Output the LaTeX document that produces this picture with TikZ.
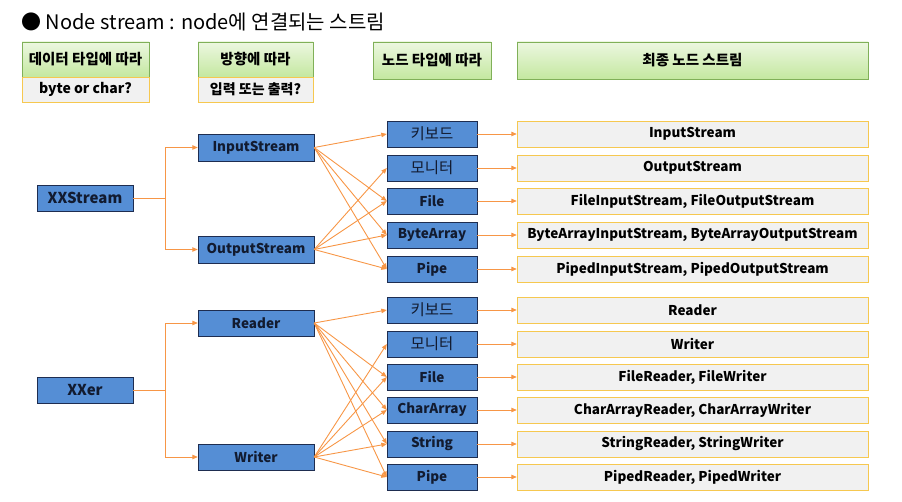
\documentclass[tikz,border=0pt]{standalone}
\usepackage{fontspec}
\setmainfont{Noto Sans CJK KR}
\usetikzlibrary{arrows.meta, shadows}
\definecolor{nodeBlue}{RGB}{85, 142, 213}
\definecolor{nodeNavy}{RGB}{30, 45, 80}
\definecolor{lineOrange}{RGB}{247, 150, 70}
\definecolor{hdrTop}{RGB}{236, 247, 224}
\definecolor{hdrBot}{RGB}{196, 232, 160}
\definecolor{hdrLine}{RGB}{128, 176, 88}
\definecolor{goldLine}{RGB}{246, 200, 80}
\definecolor{finGray}{RGB}{241, 241, 241}
\tikzset{
  hdr/.style={draw=hdrLine, top color=hdrTop, bottom color=hdrBot, font=\bfseries\fontsize{14.5}{16}\selectfont,
    inner sep=0pt, drop shadow={opacity=0.2, shadow xshift=1pt, shadow yshift=-1pt}},
  subbox/.style={draw=goldLine, fill=finGray, font=\bfseries\fontsize{14}{16}\selectfont, inner sep=0pt},
  blk/.style={draw=nodeNavy, fill=nodeBlue, text=nodeNavy!60!black, inner sep=0pt, minimum height=26pt,
    font=\bfseries\fontsize{13.5}{15}\selectfont},
  fin/.style={draw=goldLine, fill=finGray, inner sep=0pt, minimum width=351pt, minimum height=26pt,
    font=\bfseries\fontsize{13.5}{15}\selectfont, drop shadow={opacity=0.2, shadow xshift=1pt, shadow yshift=-1pt}},
  conn/.style={draw=lineOrange, line width=0.9pt, -{Triangle[length=5.5pt, width=4.5pt]}}
}
\begin{document}
\begin{tikzpicture}[x=1pt, y=-1pt]
  \useasboundingbox (0,0) rectangle (902,502);
  % title
  \node[anchor=west, font=\fontsize{20}{24}\selectfont] (title) at (18,22) {● Node stream : node에 연결되는 스트림};

  % header row
  \node[hdr, minimum width=127pt, minimum height=35pt] (hd1) at (85.5,59.5) {데이터 타입에 따라};
  \node[subbox, minimum width=127pt, minimum height=25pt] (sb1) at (85.5,89.5) {byte or char?};
  \node[hdr, minimum width=115pt, minimum height=35pt] (hd2) at (255.5,59.5) {방향에 따라};
  \node[subbox, minimum width=115pt, minimum height=25pt] (sb2) at (255.5,89.5) {입력 또는 출력?};
  \node[hdr, minimum width=118pt, minimum height=37pt] (hd3) at (432,60.5) {노드 타입에 따라};
  \node[hdr, minimum width=351pt, minimum height=37pt] (hd4) at (692.5,60.5) {최종 노드 스트림};

  % byte streams
  \node[blk, minimum width=96pt, font=\bfseries\fontsize{15}{17}\selectfont] (xs) at (85,198) {XXStream};
  \node[blk, minimum width=116pt, minimum height=27pt] (ins) at (256,147.5) {InputStream};
  \node[blk, minimum width=116pt, minimum height=27pt] (outs) at (256,249.5) {OutputStream};
  \coordinate (xsj) at (165,198);
  \draw[draw=lineOrange, line width=0.9pt] (xs.east) -- (xsj);
  \draw[conn] (xsj) |- (ins.west);
  \draw[conn] (xsj) |- (outs.west);

  \foreach \y/\lbl/\txt [count=\i] in {134/\textmd{\fontsize{15.5}{17}\selectfont 키보드}/InputStream,
      168/\textmd{\fontsize{15.5}{17}\selectfont 모니터}/OutputStream,
      201/File/{FileInputStream, FileOutputStream},
      235/ByteArray/{ByteArrayInputStream, ByteArrayOutputStream},
      269/Pipe/{PipedInputStream, PipedOutputStream}} {
    \node[blk, minimum width=90pt] (bn\i) at (432,\y) {\lbl};
    \node[fin] (bf\i) at (692.5,\y) {\txt};
    \draw[conn] (bn\i.east) -- (bf\i.west);
  }
  \foreach \t in {1,3,4,5}
    \draw[conn] (ins.east) -- (bn\t.west);
  \foreach \t in {2,3,4,5}
    \draw[conn] (outs.east) -- (bn\t.west);

  % character streams
  \node[blk, minimum width=96pt, font=\bfseries\fontsize{15}{17}\selectfont] (xer) at (85,390) {XXer};
  \node[blk, minimum width=116pt] (rd) at (256,323) {Reader};
  \node[blk, minimum width=116pt] (wr) at (256,457) {Writer};
  \coordinate (xerj) at (165,390);
  \draw[draw=lineOrange, line width=0.9pt] (xer.east) -- (xerj);
  \draw[conn] (xerj) |- (rd.west);
  \draw[conn] (xerj) |- (wr.west);

  \foreach \y/\lbl/\txt [count=\i] in {310/\textmd{\fontsize{15.5}{17}\selectfont 키보드}/Reader,
      344/\textmd{\fontsize{15.5}{17}\selectfont 모니터}/Writer,
      377/File/{FileReader, FileWriter},
      410/CharArray/{CharArrayReader, CharArrayWriter},
      444/String/{StringReader, StringWriter},
      477/Pipe/{PipedReader, PipedWriter}} {
    \node[blk, minimum width=90pt] (cn\i) at (432,\y) {\lbl};
    \node[fin] (cf\i) at (692.5,\y) {\txt};
    \draw[conn] (cn\i.east) -- (cf\i.west);
  }
  \foreach \t in {1,3,4,5,6}
    \draw[conn] (rd.east) -- (cn\t.west);
  \foreach \t in {2,3,4,5,6}
    \draw[conn] (wr.east) -- (cn\t.west);
\end{tikzpicture}
\end{document}
